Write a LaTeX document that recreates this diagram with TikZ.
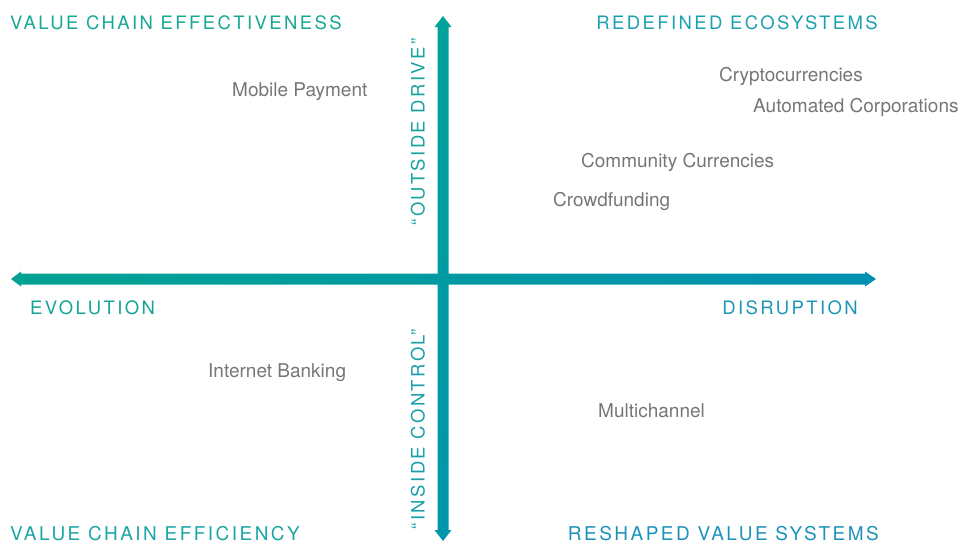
\documentclass[tikz,border=0pt]{standalone}
\usepackage{fontspec}
\setmainfont{TeX Gyre Heros}
\newfontfamily\capsfont[LetterSpace=13]{TeX Gyre Heros}
\usepackage{xcolor}
\usetikzlibrary{positioning, calc}
\definecolor{axisleft}{RGB}{0,162,146}
\definecolor{axisright}{RGB}{0,144,176}
\definecolor{axistop}{RGB}{0,162,154}
\definecolor{axisbottom}{RGB}{0,150,172}
\definecolor{greentl}{RGB}{22,168,148}
\definecolor{bluetr}{RGB}{28,160,176}
\definecolor{greenl}{RGB}{20,163,150}
\definecolor{bluer}{RGB}{28,150,180}
\definecolor{tealbl}{RGB}{28,165,165}
\definecolor{bluebr}{RGB}{28,146,186}
\definecolor{tealup}{RGB}{25,163,160}
\definecolor{tealdown}{RGB}{25,158,172}
\definecolor{itemgray}{RGB}{118,118,118}

\begin{document}
\begin{tikzpicture}[x=1pt, y=-1pt,
		heading/.style={font=\capsfont\fontsize{18.5}{22}\selectfont, inner sep=0pt},
		lowheading/.style={heading, font=\capsfont\fontsize{19}{22}\selectfont},
		item/.style={font=\fontsize{19}{22}\selectfont, text=itemgray, inner sep=0pt, anchor=base west}]
			\useasboundingbox (0,0) rectangle (963,544);
			\coordinate (center) at (443,279);
			\coordinate (left) at (11,279);
			\coordinate (right) at (876,279);
			\coordinate (up) at (443,16);
			\coordinate (down) at (443,541);

			% horizontal axis
			\shade[left color=axisleft, right color=axisright] (left) -- ++(10,-7.5) -- ++(0,2) -- ($(right)+(-11,-5.5)$) -- ++(0,-2) -- (right) -- ++(-11,7.5) -- ++(0,-2) -- ($(left)+(10,5.5)$) -- ++(0,2) -- cycle;
			% vertical axis
			\shade[top color=axistop, bottom color=axisbottom] (up) -- ++(8.5,11) -- ++(-3,0) -- ($(down)+(5.5,-11)$) -- ++(3,0) -- (down) -- ++(-8.5,-11) -- ++(3,0) -- ($(up)+(-5.5,11)$) -- ++(-3,0) -- cycle;

			% quadrant headings
			\node[heading, text=greentl, anchor=base west] (effectiveness) at (10,29) {VALUE CHAIN EFFECTIVENESS};
			\node[heading, text=bluetr, anchor=base east] (ecosystems) at (878,29) {REDEFINED ECOSYSTEMS};
			\node[heading, text=greenl, anchor=base west] (evolution) at (30,314) {EVOLUTION};
			\node[heading, text=bluer, anchor=base east] (disruption) at (858,314) {DISRUPTION};
			\node[lowheading, text=tealbl, anchor=base west] (efficiency) at (10,540.5) {VALUE CHAIN EFFICIENCY};
			\node[lowheading, text=bluebr, anchor=base east] (reshaped) at (879,540.5) {RESHAPED VALUE SYSTEMS};
			\node[heading, text=tealup, rotate=90] (outside) at (418,132) {“OUTSIDE DRIVE”};
			\node[heading, text=tealdown, rotate=90] (inside) at (418,429) {“INSIDE CONTROL”};

			% items
			\node[item] (mobile) at (232,96) {Mobile Payment};
			\node[item] (crypto) at (719,81) {Cryptocurrencies};
			\node[item] (automated) at (753,112) {Automated Corporations};
			\node[item] (community) at (581,167) {Community Currencies};
			\node[item] (crowd) at (553,206) {Crowdfunding};
			\node[item] (banking) at (208,377) {Internet Banking};
			\node[item] (multi) at (598,417) {Multichannel};
		\end{tikzpicture}
\end{document}
